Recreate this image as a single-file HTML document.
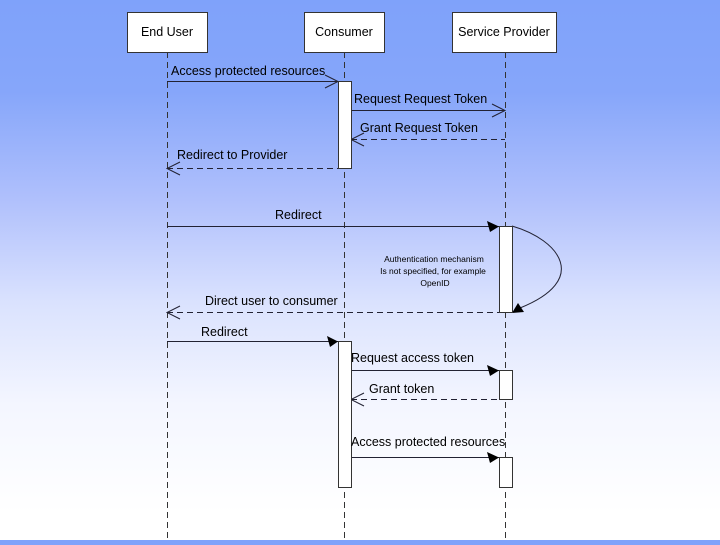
<!DOCTYPE html>
<html><head><style>
html,body{margin:0;padding:0;}
body{width:720px;height:540px;overflow:hidden;background:linear-gradient(to bottom,#7fa2fa 0%,#86a6fa 17%,#b0c0fc 37%,#dae2fe 56%,#f4f6ff 75%,#ffffff 95%);}
svg text{font-family:"Liberation Sans",sans-serif;fill:#000;}
</style></head><body>
<svg width="720" height="540" viewBox="0 0 720 540" xmlns="http://www.w3.org/2000/svg">
<g stroke="#333" stroke-width="1" stroke-dasharray="6,4" fill="none">
<line x1="167.5" y1="52" x2="167.5" y2="540"/>
<line x1="344.5" y1="52" x2="344.5" y2="540"/>
<line x1="505.5" y1="52" x2="505.5" y2="540"/>
</g>
<g fill="#fff" stroke="#333" stroke-width="1">
<rect x="127.5" y="12.5" width="80" height="40"/>
<rect x="304.5" y="12.5" width="80" height="40"/>
<rect x="452.5" y="12.5" width="104" height="40"/>
</g>
<g font-size="12.5" text-anchor="middle">
<text x="167" y="36">End User</text>
<text x="344" y="36">Consumer</text>
<text x="504" y="36">Service Provider</text>
</g>
<!-- messages -->
<g stroke="#223" stroke-width="1" fill="none">
<line x1="167" y1="81.5" x2="338" y2="81.5"/>
<polyline points="325,75 338,81.5 325,88"/>
<line x1="351" y1="110.5" x2="505" y2="110.5"/>
<polyline points="492,104 505,110.5 492,117"/>
<line x1="351" y1="139.5" x2="505" y2="139.5" stroke-dasharray="6,4"/>
<polyline points="364,133 351,139.5 364,146"/>
<line x1="167" y1="168.5" x2="338" y2="168.5" stroke-dasharray="6,4"/>
<polyline points="180,162 167,168.5 180,175"/>
<line x1="167" y1="226.5" x2="499" y2="226.5"/>
<line x1="167" y1="312.5" x2="499" y2="312.5" stroke-dasharray="6,4"/>
<polyline points="180,306 167,312.5 180,319"/>
<line x1="167" y1="341.5" x2="338" y2="341.5"/>
<line x1="351" y1="370.5" x2="499" y2="370.5"/>
<line x1="351" y1="399.5" x2="499" y2="399.5" stroke-dasharray="6,4"/>
<polyline points="364,393 351,399.5 364,406"/>
<line x1="351" y1="457.5" x2="499" y2="457.5"/>
<path d="M512,226 C560,240 590,280 520,308"/>
</g>
<g fill="#000">
<polygon points="487,221 499,226.5 490,232"/>
<polygon points="327,336 338,341.5 330,347"/>
<polygon points="487,365 499,370.5 490,376"/>
<polygon points="487,452 499,457.5 490,463"/>
<polygon points="512,313 518,303 524,312"/>
</g>
<!-- activations -->
<g fill="#fff" stroke="#333" stroke-width="1">
<rect x="338.5" y="81.5" width="13" height="87"/>
<rect x="499.5" y="226.5" width="13" height="86"/>
<rect x="338.5" y="341.5" width="13" height="146"/>
<rect x="499.5" y="370.5" width="13" height="29"/>
<rect x="499.5" y="457.5" width="13" height="30"/>
</g>
<g font-size="12.5">
<text x="171" y="75">Access protected resources</text>
<text x="354" y="103">Request Request Token</text>
<text x="360" y="132">Grant Request Token</text>
<text x="177" y="159">Redirect to Provider</text>
<text x="275" y="219">Redirect</text>
<text x="205" y="305">Direct user to consumer</text>
<text x="201" y="336">Redirect</text>
<text x="351" y="362">Request access token</text>
<text x="369" y="393">Grant token</text>
<text x="351" y="446">Access protected resources</text>
</g>
<g font-size="8.5" text-anchor="middle">
<text x="434" y="262">Authentication mechanism</text>
<text x="433" y="274">Is not specified, for example</text>
<text x="435" y="286">OpenID</text>
</g>
</svg>
</body></html>
